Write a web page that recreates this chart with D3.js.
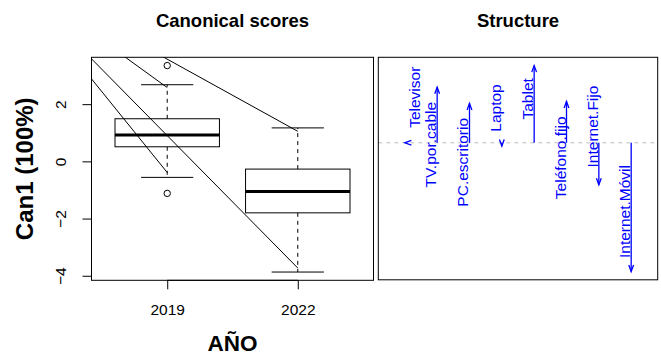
<!DOCTYPE html>
<html>
<head>
<meta charset="utf-8">
<script src="https://cdn.jsdelivr.net/npm/d3@7"></script>
<style>
  body { margin: 0; background: #fff; }
  svg { display: block; }
  text { font-family: "Liberation Sans", Arial, Helvetica, sans-serif; }
</style>
</head>
<body>
<svg id="chart" width="661" height="356"></svg>
<script>
// ---- Canonical scores (boxplots by year) ----
const years = ["2019", "2022"];
const lowerWhisker = [-0.56, -3.87];
const q1 = [0.51, -1.80];
const median = [0.92, -1.05];
const q3 = [1.49, -0.27];
const upperWhisker = [2.68, 1.17];
const outliers = [[3.35, -1.12], []];
const yTicks = [-4, -2, 0, 2];

// guide rays running from a common origin down to the whisker ends
const rayOrigin = [-0.27, 6.78];
const rayEnds = [[1, 2.58], [1, -0.39], [2, 1.05], [2, -3.73]];

// ---- Structure (correlations of each variable with Can1) ----
const variables = ["Televisor", "TV.por.cable", "PC.escritorio", "Laptop",
                   "Tablet", "Teléfono.fijo", "Internet.Fijo", "Internet.Móvil"];
const structure = [0.00, 0.345, 0.245, -0.02, 0.48, 0.257, -0.261, -0.80];
const labelAt = [0.283, -0.012, -0.121, 0.216, 0.273, -0.093, 0.101, -0.427];
const labelPos = [1, 3, 3, 3, 3, 3, 3, 3];   // R-style pos: 1 = right of arrow, 3 = left

const svg = d3.select("#chart");
const pad = ([a, b]) => [a - (b - a) * 0.04, b + (b - a) * 0.04];

const left = { x0: 91.5, x1: 373.5, y0: 57.3, y1: 280.3 };
const right = { x0: 378.3, x1: 657.7, y0: 57.3, y1: 279.8 };

// ---------- left panel ----------
const allVals = [...lowerWhisker, ...upperWhisker, ...outliers.flat()];
const xL = d3.scaleLinear().domain(pad([0.5, 2.5])).range([left.x0, left.x1]);
const yL = d3.scaleLinear().domain(pad(d3.extent(allVals))).range([left.y1, left.y0]);

const gL = svg.append("g");
gL.append("clipPath").attr("id", "clipL").append("rect")
  .attr("x", left.x0).attr("y", left.y0)
  .attr("width", left.x1 - left.x0).attr("height", left.y1 - left.y0);

years.forEach((yr, i) => {
  const p = i + 1;
  const g = gL.append("g").attr("stroke", "#000").attr("fill", "none");
  // whiskers
  g.append("line").attr("x1", xL(p)).attr("x2", xL(p))
    .attr("y1", yL(q3[i])).attr("y2", yL(upperWhisker[i]))
    .attr("stroke-dasharray", "4,4");
  g.append("line").attr("x1", xL(p)).attr("x2", xL(p))
    .attr("y1", yL(q1[i])).attr("y2", yL(lowerWhisker[i]))
    .attr("stroke-dasharray", "4,4");
  // staples
  [upperWhisker[i], lowerWhisker[i]].forEach(v => {
    g.append("line").attr("x1", xL(p - 0.2)).attr("x2", xL(p + 0.2))
      .attr("y1", yL(v)).attr("y2", yL(v));
  });
  // box
  g.append("rect").attr("x", xL(p - 0.4)).attr("y", yL(q3[i]))
    .attr("width", xL(p + 0.4) - xL(p - 0.4)).attr("height", yL(q1[i]) - yL(q3[i]));
  // median
  g.append("line").attr("x1", xL(p - 0.4)).attr("x2", xL(p + 0.4))
    .attr("y1", yL(median[i])).attr("y2", yL(median[i])).attr("stroke-width", 3);
  // outliers
  outliers[i].forEach(v => {
    g.append("circle").attr("cx", xL(p)).attr("cy", yL(v)).attr("r", 3.2);
  });
});

// rays
gL.append("g").attr("clip-path", "url(#clipL)")
  .selectAll("line").data(rayEnds).join("line")
  .attr("x1", xL(rayOrigin[0])).attr("y1", yL(rayOrigin[1]))
  .attr("x2", d => xL(d[0])).attr("y2", d => yL(d[1]))
  .attr("stroke", "#000").attr("stroke-width", 1);

// frame
gL.append("rect").attr("x", left.x0).attr("y", left.y0)
  .attr("width", left.x1 - left.x0).attr("height", left.y1 - left.y0)
  .attr("fill", "none").attr("stroke", "#000");

// axes
const xAxis = d3.axisBottom(xL).tickValues([1, 2]).tickFormat((d, i) => years[i])
  .tickSize(9).tickPadding(6);
const gx = gL.append("g").attr("transform", `translate(0,${left.y1})`).call(xAxis);
gx.select(".domain").attr("d", `M${xL(1)},0H${xL(2)}`);
gx.selectAll("text").attr("font-size", 15.5).attr("fill", "#000")
  .attr("font-family", "Liberation Sans, Arial, sans-serif").attr("dy", "1.3em");

const yAxis = d3.axisLeft(yL).tickValues(yTicks).tickSize(9).tickFormat(d3.format("d"));
const gy = gL.append("g").attr("transform", `translate(${left.x0},0)`).call(yAxis);
gy.select(".domain").attr("d", `M0,${yL(yTicks[0])}V${yL(yTicks[yTicks.length - 1])}`);
gy.selectAll(".tick text")
  .attr("font-size", 15.5).attr("fill", "#000")
  .attr("font-family", "Liberation Sans, Arial, sans-serif")
  .attr("x", null).attr("dy", null).attr("text-anchor", "middle")
  .attr("transform", "translate(-25.5,0) rotate(-90)");

// titles
svg.append("text").attr("x", (left.x0 + left.x1) / 2).attr("y", 27)
  .attr("text-anchor", "middle").attr("font-weight", "bold").attr("font-size", 18.5)
  .text("Canonical scores");
svg.append("text")
  .attr("transform", `translate(33,${(left.y0 + left.y1) / 2}) rotate(-90)`)
  .attr("text-anchor", "middle").attr("font-weight", "bold").attr("font-size", 24)
  .text("Can1 (100%)");
svg.append("text").attr("x", (left.x0 + left.x1) / 2).attr("y", 351)
  .attr("text-anchor", "middle").attr("font-weight", "bold").attr("font-size", 22.5)
  .text("AÑO");

// ---------- right panel ----------
const xR = d3.scaleLinear().domain(pad([0.5, variables.length + 0.5])).range([right.x0, right.x1]);
const yR = d3.scaleLinear().domain(pad(d3.extent(structure))).range([right.y1, right.y0]);
const gR = svg.append("g");

gR.append("line").attr("x1", right.x0).attr("x2", right.x1)
  .attr("y1", yR(0)).attr("y2", yR(0))
  .attr("stroke", "#bebebe").attr("stroke-dasharray", "4,4");

const blue = "#0000ff";
const headLen = 7, headAng = 20 * Math.PI / 180;
variables.forEach((name, i) => {
  const x = xR(i + 1), y0 = yR(0), y1 = yR(structure[i]);
  const dy = y1 - y0;
  gR.append("line").attr("x1", x).attr("x2", x).attr("y1", y0).attr("y2", y1)
    .attr("stroke", blue).attr("stroke-width", 1.3);
  // arrow head; a zero-length arrow gets R's indeterminate (leftward) head
  const ang = Math.abs(dy) < 0.5 ? Math.PI : Math.atan2(dy, 0);
  const pts = [ang + Math.PI - headAng, ang + Math.PI + headAng]
    .map(a => [x + headLen * Math.cos(a), y1 + headLen * Math.sin(a)]);
  gR.append("path")
    .attr("d", `M${pts[0][0]},${pts[0][1]}L${x},${y1}L${pts[1][0]},${pts[1][1]}`)
    .attr("fill", "none").attr("stroke", blue).attr("stroke-width", 1.3);
  const fs = 15.5;
  const bx = labelPos[i] === 1 ? x + 4 + 0.72 * fs : x - 1;
  gR.append("text")
    .attr("transform", `translate(${bx},${yR(labelAt[i])}) rotate(-90)`)
    .attr("text-anchor", "middle").attr("font-size", fs).attr("fill", blue)
    .text(name);
});

gR.append("rect").attr("x", right.x0).attr("y", right.y0)
  .attr("width", right.x1 - right.x0).attr("height", right.y1 - right.y0)
  .attr("fill", "none").attr("stroke", "#000");

svg.append("text").attr("x", (right.x0 + right.x1) / 2).attr("y", 27)
  .attr("text-anchor", "middle").attr("font-weight", "bold").attr("font-size", 18.5)
  .text("Structure");
</script>
</body>
</html>
